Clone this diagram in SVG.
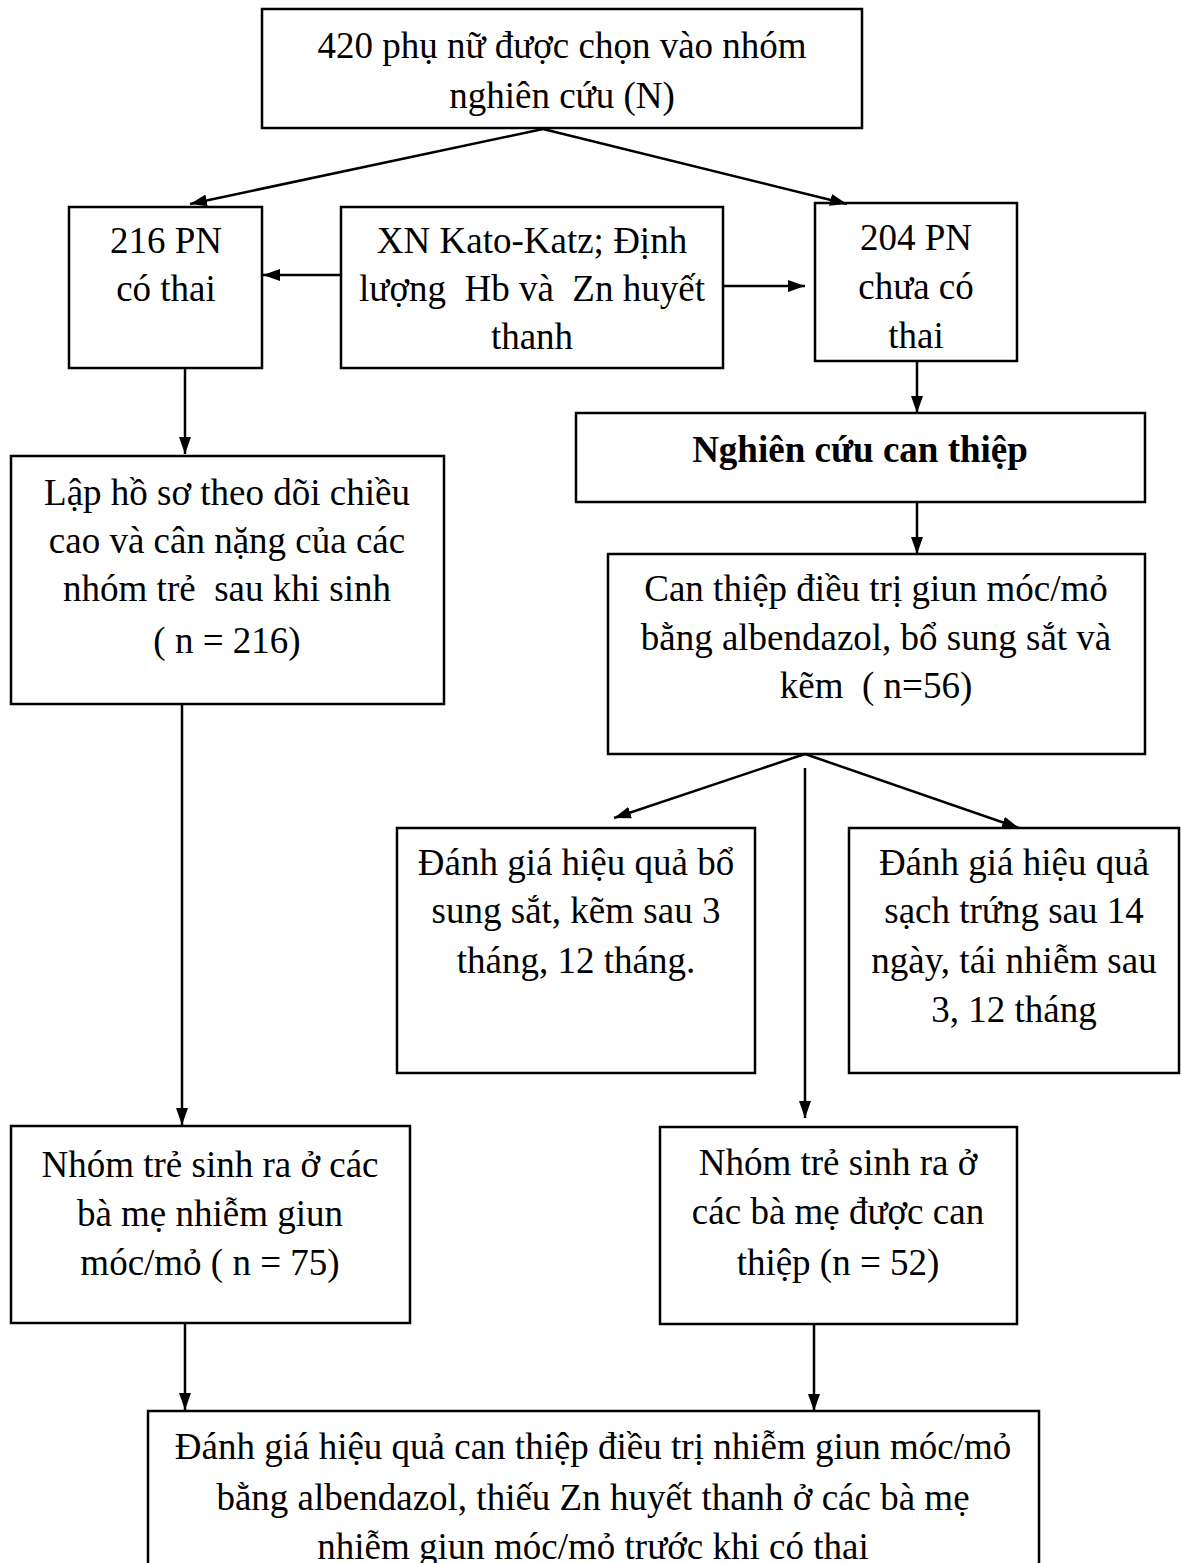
<svg xmlns="http://www.w3.org/2000/svg" width="1182" height="1563" viewBox="0 0 1182 1563">
<style>
.box{fill:#fff;stroke:#000;stroke-width:2.5}
.t{font-family:"Liberation Serif","Times New Roman",serif;font-size:37px;fill:#000;text-anchor:middle}
.b{font-weight:bold}
.c{stroke:#000;stroke-width:2.5;fill:none;marker-end:url(#ah)}
</style>
<defs>
<marker id="ah" viewBox="0 0 17 12" refX="17" refY="6" markerWidth="17" markerHeight="12" markerUnits="userSpaceOnUse" orient="auto">
<path d="M0,0 L17,6 L0,12 z" fill="#000"/>
</marker>
</defs>
<rect width="1182" height="1563" fill="#fff"/>
<g id="n1"><rect class="box" x="262" y="9" width="600" height="119"/>
<text class="t" x="562" y="58">420 phụ nữ được chọn vào nhóm</text>
<text class="t" x="562" y="108">nghiên cứu (N)</text></g>
<g id="n2"><rect class="box" x="69" y="207" width="193" height="161"/>
<text class="t" x="166" y="253">216 PN</text>
<text class="t" x="166" y="301">có thai</text></g>
<g id="n3"><rect class="box" x="341" y="207" width="382" height="161"/>
<text class="t" x="532" y="253">XN Kato-Katz; Định</text>
<text class="t" x="532" y="301" xml:space="preserve">lượng  Hb và  Zn huyết</text>
<text class="t" x="532" y="349">thanh</text></g>
<g id="n4"><rect class="box" x="815" y="203" width="202" height="158"/>
<text class="t" x="916" y="250">204 PN</text>
<text class="t" x="916" y="299">chưa có</text>
<text class="t" x="916" y="348">thai</text></g>
<g id="n5"><rect class="box" x="576" y="413" width="569" height="89"/>
<text class="t b" x="860" y="462">Nghiên cứu can thiệp</text></g>
<g id="n6"><rect class="box" x="11" y="456" width="433" height="248"/>
<text class="t" x="227" y="505">Lập hồ sơ theo dõi chiều</text>
<text class="t" x="227" y="553">cao và cân nặng của các</text>
<text class="t" x="227" y="601" xml:space="preserve">nhóm trẻ  sau khi sinh</text>
<text class="t" x="227" y="653">( n = 216)</text></g>
<g id="n7"><rect class="box" x="608" y="554" width="537" height="200"/>
<text class="t" x="876" y="601">Can thiệp điều trị giun móc/mỏ</text>
<text class="t" x="876" y="650">bằng albendazol, bổ sung sắt và</text>
<text class="t" x="876" y="698" xml:space="preserve">kẽm  ( n=56)</text></g>
<g id="n8"><rect class="box" x="397" y="828" width="358" height="245"/>
<text class="t" x="576" y="875">Đánh giá hiệu quả bổ</text>
<text class="t" x="576" y="923">sung sắt, kẽm sau 3</text>
<text class="t" x="576" y="973">tháng, 12 tháng.</text></g>
<g id="n9"><rect class="box" x="849" y="828" width="330" height="245"/>
<text class="t" x="1014" y="875">Đánh giá hiệu quả</text>
<text class="t" x="1014" y="923">sạch trứng sau 14</text>
<text class="t" x="1014" y="973">ngày, tái nhiễm sau</text>
<text class="t" x="1014" y="1022">3, 12 tháng</text></g>
<g id="n10"><rect class="box" x="11" y="1126" width="399" height="197"/>
<text class="t" x="210" y="1177">Nhóm trẻ sinh ra ở các</text>
<text class="t" x="210" y="1226">bà mẹ nhiễm giun</text>
<text class="t" x="210" y="1275">móc/mỏ ( n = 75)</text></g>
<g id="n11"><rect class="box" x="660" y="1127" width="357" height="197"/>
<text class="t" x="838" y="1175">Nhóm trẻ sinh ra ở</text>
<text class="t" x="838" y="1224">các bà mẹ được can</text>
<text class="t" x="838" y="1275">thiệp (n = 52)</text></g>
<g id="n12"><rect class="box" x="148" y="1411" width="891" height="170"/>
<text class="t" x="593" y="1459">Đánh giá hiệu quả can thiệp điều trị nhiễm giun móc/mỏ</text>
<text class="t" x="593" y="1510">bằng albendazol, thiếu Zn huyết thanh ở các bà mẹ</text>
<text class="t" x="593" y="1559">nhiễm giun móc/mỏ trước khi có thai</text></g>
<g id="connectors">
<line class="c" x1="543" y1="129" x2="190" y2="204"/>
<line class="c" x1="543" y1="129" x2="847" y2="204"/>
<line class="c" x1="341" y1="275" x2="263" y2="275"/>
<line class="c" x1="723" y1="286" x2="805" y2="286"/>
<line class="c" x1="185" y1="368" x2="185" y2="454"/>
<line class="c" x1="917" y1="361" x2="917" y2="413"/>
<line class="c" x1="917" y1="502" x2="917" y2="554"/>
<line class="c" x1="805" y1="754" x2="614" y2="818"/>
<line class="c" x1="805" y1="754" x2="1019" y2="828"/>
<line class="c" x1="805" y1="768" x2="805" y2="1118"/>
<line class="c" x1="182" y1="704" x2="182" y2="1125"/>
<line class="c" x1="185" y1="1323" x2="185" y2="1410"/>
<line class="c" x1="814" y1="1324" x2="814" y2="1411"/>
</g>
</svg>
